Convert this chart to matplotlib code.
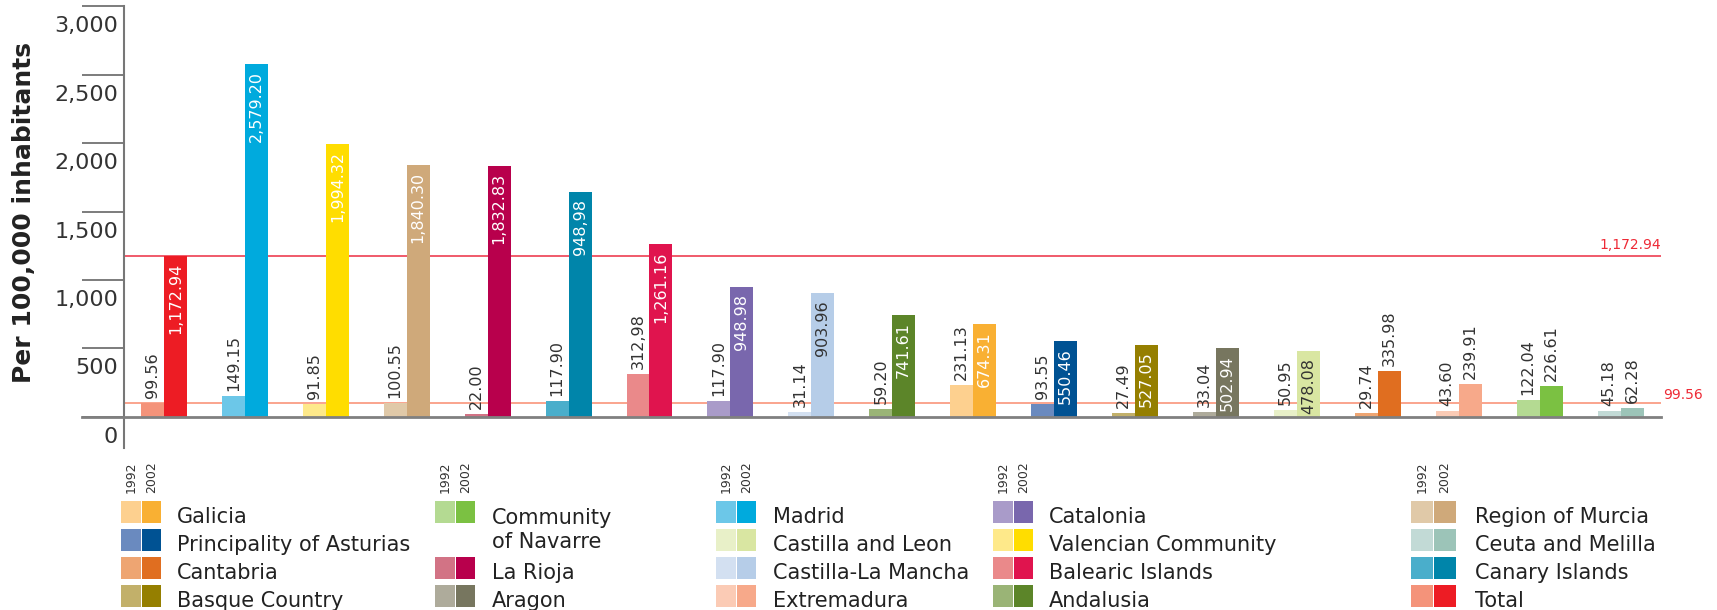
import matplotlib
matplotlib.use("Agg")
from matplotlib import pyplot as plt
from matplotlib.patches import Rectangle

# regions in plotted order
regions = ['Total', 'Madrid', 'Valencian Community', 'Region of Murcia', 'La Rioja',
           'Canary Islands', 'Balearic Islands', 'Catalonia', 'Castilla-La Mancha',
           'Andalusia', 'Galicia', 'Principality of Asturias', 'Basque Country',
           'Aragon', 'Castilla and Leon', 'Cantabria', 'Extremadura',
           'Community of Navarre', 'Ceuta and Melilla']
v1992 = [99.56, 149.15, 91.85, 100.55, 22.00, 117.90, 312.98, 117.90, 31.14, 59.20,
         231.13, 93.55, 27.49, 33.04, 50.95, 29.74, 43.60, 122.04, 45.18]
v2002 = [1172.94, 2579.20, 1994.32, 1840.30, 1832.83, 1642.00, 1261.16, 948.98, 903.96,
         741.61, 674.31, 550.46, 527.05, 502.94, 478.08, 335.98, 239.91, 226.61, 62.28]
# printed labels (as in the source, incl. its typos)
labels1992 = ['99.56', '149.15', '91.85', '100.55', '22.00', '117.90', '312,98', '117.90',
              '31.14', '59.20', '231.13', '93.55', '27.49', '33.04', '50.95', '29.74',
              '43.60', '122.04', '45.18']
labels2002 = ['1,172.94', '2,579.20', '1,994.32', '1,840.30', '1,832.83', '948,98',
              '1,261.16', '948.98', '903.96', '741.61', '674.31', '550.46', '527.05',
              '502.94', '478.08', '335.98', '239.91', '226.61', '62.28']
ref_total_2002 = 1172.94
ref_total_1992 = 99.56
yticks = [0, 500, 1000, 1500, 2000, 2500, 3000]
years = ['1992', '2002']

colors = {
    'Total': ('#f4937a', '#ed1c24'),
    'Madrid': ('#6cc7e8', '#00aadd'),
    'Valencian Community': ('#fee98a', '#ffdd00'),
    'Region of Murcia': ('#e0c9a8', '#cfa97a'),
    'La Rioja': ('#d27385', '#b8004c'),
    'Canary Islands': ('#4aaecb', '#0085aa'),
    'Balearic Islands': ('#ea898a', '#e0144e'),
    'Catalonia': ('#a99bc9', '#7967ad'),
    'Castilla-La Mancha': ('#d3e0f1', '#b6cde8'),
    'Andalusia': ('#9ab476', '#5c8529'),
    'Galicia': ('#fdd08f', '#f9b033'),
    'Principality of Asturias': ('#6a8abf', '#005293'),
    'Basque Country': ('#c2b06a', '#957f00'),
    'Aragon': ('#aeab9b', '#77765f'),
    'Castilla and Leon': ('#e8f0c8', '#d9e6a2'),
    'Cantabria': ('#eea572', '#e06e20'),
    'Extremadura': ('#fbcbb5', '#f7a98a'),
    'Community of Navarre': ('#b4da92', '#7bc142'),
    'Ceuta and Melilla': ('#c2dad6', '#9cc4b8'),
}
dark_text_in_bar = ['Castilla-La Mancha', 'Castilla and Leon']

legend_cols = [
    ['Galicia', 'Principality of Asturias', 'Cantabria', 'Basque Country'],
    ['Community of Navarre', None, 'La Rioja', 'Aragon'],
    ['Madrid', 'Castilla and Leon', 'Castilla-La Mancha', 'Extremadura'],
    ['Catalonia', 'Valencian Community', 'Balearic Islands', 'Andalusia'],
    ['Region of Murcia', 'Ceuta and Melilla', 'Canary Islands', 'Total'],
]
legend_names = {'Community of Navarre': 'Community\nof Navarre'}

W, H = 1717, 610
TXT = '#333333'
fig = plt.figure(figsize=(W / 100, H / 100), dpi=100)

# main axes, placed in pixels
ax = fig.add_axes([124 / W, (H - 448) / H, (1661 - 124) / W, (448 - 6.3) / H])
ax.set_xlim(-0.494, 18.50)
ax.set_ylim(-228.8, 3000)
for s in ['top', 'right', 'bottom']:
    ax.spines[s].set_visible(False)
ax.spines['left'].set_color('#777777')
ax.spines['left'].set_linewidth(1.5)
ax.set_xticks([])
ax.set_yticks(yticks)
ax.tick_params(axis='y', length=30, width=1.2, color='#666666', labelleft=False)
for v in yticks:
    ax.annotate(f'{v:,}', xy=(0, v), xycoords=('axes fraction', 'data'),
                xytext=(-6, -10), textcoords='offset pixels', ha='right', va='top',
                fontsize=16, color=TXT)

ax.plot([-1.0136, 18.50], [0, 0], color='#808080', lw=2, clip_on=False, zorder=3)
ax.axhline(ref_total_2002, color='#f05a6a', lw=1.4, zorder=1)
ax.axhline(ref_total_1992, color='#f9957a', lw=1.2, zorder=1)
ax.annotate(f'{ref_total_2002:,.2f}', xy=(1, ref_total_2002), xycoords=('axes fraction', 'data'),
            xytext=(0, 4), textcoords='offset pixels', ha='right', va='bottom',
            fontsize=10, color='#ee2a36')
ax.annotate(f'{ref_total_1992:,.2f}', xy=(1, ref_total_1992), xycoords=('axes fraction', 'data'),
            xytext=(2, 1), textcoords='offset pixels', ha='left', va='bottom',
            fontsize=10, color='#ee2a36')

x = list(range(len(regions)))
w = 0.284
ax.bar([i - w / 2 for i in x], v1992, w, color=[colors[r][0] for r in regions], zorder=2)
ax.bar([i + w / 2 for i in x], v2002, w, color=[colors[r][1] for r in regions], zorder=2)

for i, r in enumerate(regions):
    ax.annotate(labels1992[i], (i - w / 2, v1992[i]), xytext=(0, 5), textcoords='offset pixels',
                rotation=90, ha='center', va='bottom', fontsize=11.5, color=TXT)
    if v2002[i] > 400:
        c = TXT if r in dark_text_in_bar else 'white'
        ax.annotate(labels2002[i], (i + w / 2, v2002[i]), xytext=(0, -7), textcoords='offset pixels',
                    rotation=90, ha='center', va='top', fontsize=11.5, color=c)
    else:
        ax.annotate(labels2002[i], (i + w / 2, v2002[i]), xytext=(0, 5), textcoords='offset pixels',
                    rotation=90, ha='center', va='bottom', fontsize=11.5, color=TXT)

fig.text(24 / W, 1 - 212.5 / H, 'Per 100,000 inhabitants', rotation=90, fontsize=18,
         fontweight='bold', ha='center', va='center', color='#222222')

# legend, drawn in pixel coordinates
lax = fig.add_axes([0, 0, 1, 1], zorder=-1)
lax.set_xlim(0, W)
lax.set_ylim(H, 0)
lax.axis('off')
col_x = [(121, 177, 19.5), (435, 492, 19.5), (716, 773, 19.5), (993, 1049, 19.5), (1411, 1475, 22)]
row_top = [500.7, 528.7, 556.7, 584.7]
for (sx, tx, sw), names in zip(col_x, legend_cols):
    for k, yr in enumerate(years):
        lax.text(sx + sw / 2 + k * (sw + 1), 493, yr, rotation=90, ha='center', va='bottom',
                 fontsize=9, color=TXT)
    for row, name in enumerate(names):
        if name is None:
            continue
        y0 = row_top[row]
        for k in range(2):
            lax.add_patch(Rectangle((sx + k * (sw + 1), y0), sw, 22, color=colors[name][k], lw=0))
        label = legend_names.get(name, name)
        n_lines = label.count('\n')
        # baseline alignment goes to the last line, so push multi-line labels down
        lax.text(tx, y0 + 22 + 25.5 * n_lines, label, ha='left', va='baseline',
                 fontsize=15, color='#222222', linespacing=1.25)

fig.savefig('out.png', dpi=100)
